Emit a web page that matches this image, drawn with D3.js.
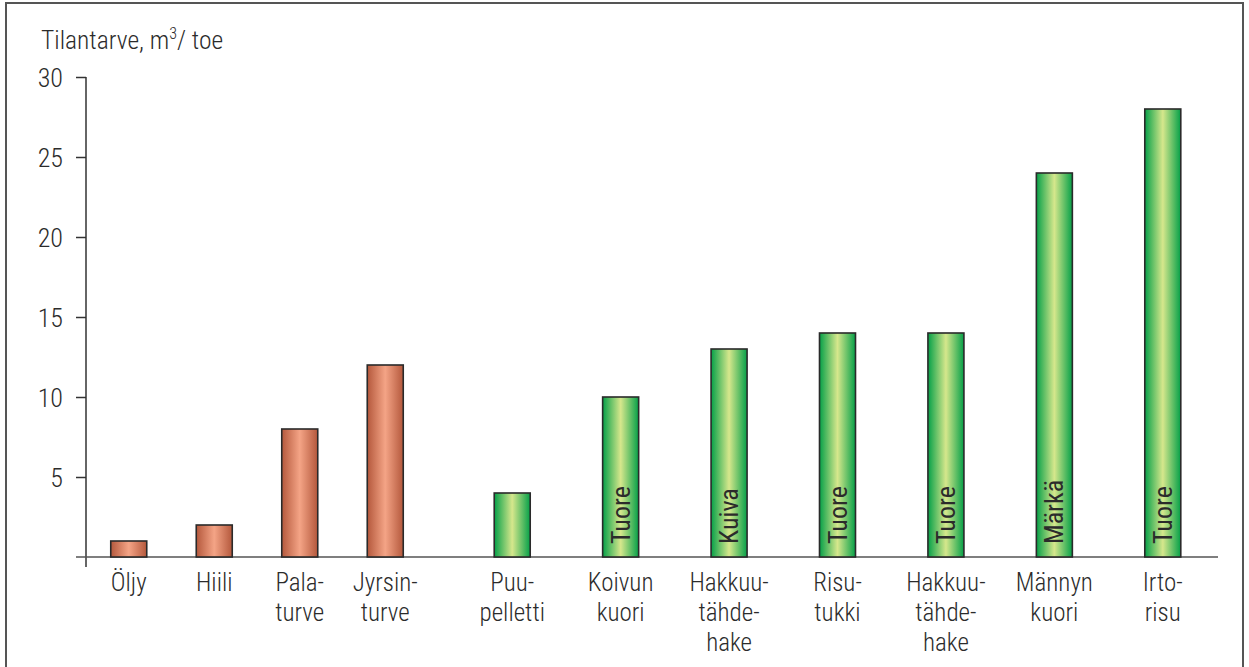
<!DOCTYPE html>
<html>
<head>
<meta charset="utf-8">
<script src="https://cdn.jsdelivr.net/npm/d3@7"></script>
<style>
  html, body { margin: 0; padding: 0; background: #fff; }
  svg { display: block; }
  text { font-family: "Roboto Condensed", "Roboto", sans-serif; font-weight: 300; fill: #2b2b2b; }
</style>
</head>
<body>
<svg id="chart" width="1249" height="667"></svg>
<script>
// Space requirement per toe of fuel (m³ / toe)
const fossilCategories = ["Öljy", "Hiili", "Pala-\nturve", "Jyrsin-\nturve"];
const fossilValues = [1, 2, 8, 12];

const woodCategories = ["Puu-\npelletti", "Koivun\nkuori", "Hakkuu-\ntähde-\nhake", "Risu-\ntukki", "Hakkuu-\ntähde-\nhake ", "Männyn\nkuori", "Irto-\nrisu"];
const woodValues = [4, 10, 13, 14, 14, 24, 28];
const woodStates = ["", "Tuore", "Kuiva", "Tuore", "Tuore", "Märkä", "Tuore"];

const yTicks = [5, 10, 15, 20, 25, 30];

const svg = d3.select("#chart");
const H = 667;

// frame
svg.append("rect").attr("x", 6).attr("y", 3).attr("width", 1237).attr("height", H + 10)
  .attr("fill", "none").attr("stroke", "#555").attr("stroke-width", 2);

const defs = svg.append("defs");
function hGrad(id, edge, mid) {
  const g = defs.append("linearGradient").attr("id", id).attr("x1", "0").attr("x2", "1").attr("y1", "0").attr("y2", "0");
  g.append("stop").attr("offset", "0").attr("stop-color", edge);
  g.append("stop").attr("offset", "0.5").attr("stop-color", mid);
  g.append("stop").attr("offset", "1").attr("stop-color", edge);
}
hGrad("gradBrown", "#b4583c", "#f4a486");
hGrad("gradGreen", "#05a048", "#d6e78c");

const y = d3.scaleLinear().domain([0, 30]).range([557, 77]);
const xFossil = d3.scaleBand().domain(fossilCategories).range([86, 428]);
const xWood = d3.scaleBand().domain(woodCategories).range([458, 1217]);
const barW = 36;

// y axis
const yAxis = d3.axisLeft(y).tickValues(yTicks).tickSize(10).tickPadding(13);
const gy = svg.append("g").attr("transform", "translate(86,0)").call(yAxis);
gy.select(".domain").remove();
gy.selectAll(".tick line").attr("stroke", "#333").attr("stroke-width", 1.5);
gy.selectAll(".tick text").attr("font-size", 26).attr("fill", "#2b2b2b")
  .attr("dy", "0.36em")
  .style("font-family", "\"Roboto Condensed\", Roboto, sans-serif").style("font-weight", 300);
svg.append("line").attr("x1", 86).attr("x2", 86).attr("y1", y(30)).attr("y2", y(0) + 10)
  .attr("stroke", "#333").attr("stroke-width", 1.5);
svg.append("line").attr("x1", 76).attr("x2", 1218).attr("y1", y(0)).attr("y2", y(0))
  .attr("stroke", "#555").attr("stroke-width", 1.5);

// axis title
const title = svg.append("text").attr("x", 41).attr("y", 49).attr("font-size", 25.5);
title.append("tspan").text("Tilantarve, m");
title.append("tspan").attr("dy", -10).attr("font-size", 16).text("3");
title.append("tspan").attr("dy", 10).text("/ toe");

function drawGroup(cats, vals, xs, grad) {
  const g = svg.append("g");
  g.selectAll("rect").data(cats).join("rect")
    .attr("x", d => xs(d) + xs.bandwidth() / 2 - barW / 2)
    .attr("width", barW)
    .attr("y", (d, i) => y(vals[i]))
    .attr("height", (d, i) => y(0) - y(vals[i]))
    .attr("fill", `url(#${grad})`)
    .attr("stroke", "#2a2a2a").attr("stroke-width", 1.6);
  const labels = g.selectAll("text.cat").data(cats).join("text").attr("class", "cat")
    .attr("text-anchor", "middle").attr("font-size", 25);
  labels.each(function(d) {
    const cx = xs(d) + xs.bandwidth() / 2;
    d.trim().split("\n").forEach((line, k) => {
      d3.select(this).append("tspan").attr("x", cx).attr("y", 591 + k * 30).text(line);
    });
  });
}
drawGroup(fossilCategories, fossilValues, xFossil, "gradBrown");
drawGroup(woodCategories, woodValues, xWood, "gradGreen");

// state labels inside wood bars
svg.append("g").selectAll("text").data(woodCategories.filter((d, i) => woodStates[i]))
  .join("text")
  .attr("transform", d => `translate(${xWood(d) + xWood.bandwidth() / 2 + 9},${y(0) - 13}) rotate(-90)`)
  .attr("font-size", 26).attr("fill", "#1a1a1a").style("font-weight", 400)
  .text(d => woodStates[woodCategories.indexOf(d)]);
</script>
</body>
</html>
